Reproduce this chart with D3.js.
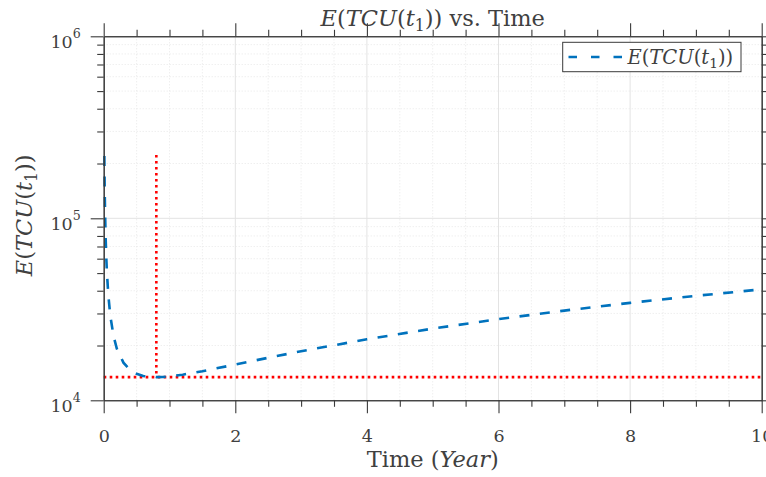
<!DOCTYPE html>
<html>
<head>
<meta charset="utf-8">
<script src="https://cdn.jsdelivr.net/npm/d3@7"></script>
<style>
  html, body { margin: 0; padding: 0; background: #ffffff; }
  svg { display: block; }
  text { font-family: "DejaVu Serif", "Liberation Serif", serif; fill: #404040; }
</style>
</head>
<body>
<svg id="chart" width="766" height="477"></svg>
<script>
// ---- data ----
const tYears = [0.01, 0.015, 0.02, 0.03, 0.04, 0.05, 0.07, 0.1, 0.15, 0.2, 0.3, 0.4, 0.5, 0.6, 0.7, 0.8, 0.9, 1.0, 1.2, 1.5, 2, 2.5, 3, 4, 5, 6, 7, 8, 9, 10];
const tcuValues = [220000, 146000, 111500, 77000, 60000, 49700, 38000, 29200, 22500, 19200, 16100, 14700, 14000, 13600, 13450, 13400, 13440, 13530, 13830, 14450, 15720, 17130, 18600, 21650, 24780, 27930, 31110, 34300, 37490, 40700];
const optimalT = [0.8];
const optimalTCU = [13400];
const markerTop = [223000];
const xMajorTicks = [0, 2, 4, 6, 8, 10];
const xMinorTicks = [0.5, 1, 1.5, 2.5, 3, 3.5, 4.5, 5, 5.5, 6.5, 7, 7.5, 8.5, 9, 9.5];
const yMajorTicks = [1e4, 1e5, 1e6];
const yMajorExponents = ["4", "5", "6"];
const yMinorTicks = [2e4, 3e4, 4e4, 5e4, 6e4, 7e4, 8e4, 9e4, 2e5, 3e5, 4e5, 5e5, 6e5, 7e5, 8e5, 9e5];
const xDomain = [0, 10];
const yDomain = [1e4, 1e6];
const seriesName = [["E", "i"], ["(", "n"], ["TCU", "i"], ["(", "n"], ["t", "i"], ["1", "s"], ["))", "n"]];
const titleTail = " vs. Time";
const xLabelParts = [["Time (", "n"], ["Year", "i"], [")", "n"]];

// ---- layout ----
const L = 103.7, R = 761.7, T = 36.3, B = 400.3;
const svg = d3.select("#chart");
const x = d3.scaleLinear().domain(xDomain).range([L, R]);
const y = d3.scaleLog().domain(yDomain).range([B, T]);

const axisColor = "#3a3a3a";
const majorLen = 13, minorLen = 6.5;

// grid
const grid = svg.append("g");
grid.selectAll(".xmin").data(xMinorTicks).join("line")
  .attr("x1", d => x(d)).attr("x2", d => x(d)).attr("y1", T).attr("y2", B)
  .attr("stroke", "#e2e2e2").attr("stroke-width", 0.8).attr("stroke-dasharray", "1,2");
grid.selectAll(".ymin").data(yMinorTicks).join("line")
  .attr("y1", d => y(d)).attr("y2", d => y(d)).attr("x1", L).attr("x2", R)
  .attr("stroke", "#e2e2e2").attr("stroke-width", 0.8).attr("stroke-dasharray", "1,2");
grid.selectAll(".xmaj").data(xMajorTicks.slice(1, -1)).join("line")
  .attr("x1", d => x(d)).attr("x2", d => x(d)).attr("y1", T).attr("y2", B)
  .attr("stroke", "#e3e3e3").attr("stroke-width", 1);
grid.selectAll(".ymaj").data(yMajorTicks.slice(1, -1)).join("line")
  .attr("y1", d => y(d)).attr("y2", d => y(d)).attr("x1", L).attr("x2", R)
  .attr("stroke", "#e3e3e3").attr("stroke-width", 1);

// reference lines (red dotted)
svg.append("line")
  .attr("x1", x(xDomain[0])).attr("x2", x(xDomain[1]))
  .attr("y1", y(optimalTCU[0])).attr("y2", y(optimalTCU[0]))
  .attr("stroke", "#ff0000").attr("stroke-width", 2.6).attr("stroke-dasharray", "2.6,3.4");
svg.append("line")
  .attr("x1", x(optimalT[0])).attr("x2", x(optimalT[0]))
  .attr("y1", y(markerTop[0])).attr("y2", y(optimalTCU[0]))
  .attr("stroke", "#ff0000").attr("stroke-width", 2.6).attr("stroke-dasharray", "2.6,3.4");

// curve
const line = d3.line().x((d, i) => x(tYears[i])).y(d => y(d));
svg.append("path").datum(tcuValues)
  .attr("d", line).attr("fill", "none")
  .attr("stroke", "#0072BD").attr("stroke-width", 2.6)
  .attr("stroke-dasharray", "10,10.5");

// axes
function styleAxis(g) {
  g.select(".domain").attr("stroke", axisColor).attr("stroke-width", 1.1);
  g.selectAll(".tick line").attr("stroke", axisColor).attr("stroke-width", 1.1);
}
const tickFont = 17.5;

// bottom
const gB = svg.append("g").attr("transform", `translate(0,${B})`)
  .call(d3.axisBottom(x).tickValues(xMajorTicks).tickSize(majorLen).tickSizeOuter(0).tickPadding(16).tickFormat(d3.format("d")));
styleAxis(gB);
gB.selectAll(".tick text").attr("font-size", tickFont).attr("font-family", "DejaVu Serif").attr("fill", "#404040");
const gBm = svg.append("g").attr("transform", `translate(0,${B})`)
  .call(d3.axisBottom(x).tickValues(xMinorTicks).tickSize(minorLen).tickSizeOuter(0).tickFormat(""));
styleAxis(gBm);

// top
const gT = svg.append("g").attr("transform", `translate(0,${T})`)
  .call(d3.axisTop(x).tickValues(xMajorTicks).tickSize(majorLen).tickSizeOuter(0).tickFormat(""));
styleAxis(gT);
const gTm = svg.append("g").attr("transform", `translate(0,${T})`)
  .call(d3.axisTop(x).tickValues(xMinorTicks).tickSize(minorLen).tickSizeOuter(0).tickFormat(""));
styleAxis(gTm);

// left
const gL = svg.append("g").attr("transform", `translate(${L},0)`)
  .call(d3.axisLeft(y).tickValues(yMajorTicks).tickSize(majorLen).tickSizeOuter(0).tickPadding(10).tickFormat(""));
styleAxis(gL);
gL.selectAll(".tick").each(function(d, i) {
  const t = d3.select(this).select("text")
    .attr("font-size", tickFont).attr("font-family", "DejaVu Serif").attr("fill", "#404040")
    .attr("dy", "0.62em").text(null);
  t.append("tspan").text("10");
  t.append("tspan").attr("font-size", tickFont * 0.72).attr("dy", -tickFont * 0.58).text(yMajorExponents[i]);
});
const gLm = svg.append("g").attr("transform", `translate(${L},0)`)
  .call(d3.axisLeft(y).tickValues(yMinorTicks).tickSize(minorLen).tickSizeOuter(0).tickFormat(""));
styleAxis(gLm);

// right
const gR = svg.append("g").attr("transform", `translate(${R},0)`)
  .call(d3.axisRight(y).tickValues(yMajorTicks).tickSize(majorLen).tickSizeOuter(0).tickFormat(""));
styleAxis(gR);
const gRm = svg.append("g").attr("transform", `translate(${R},0)`)
  .call(d3.axisRight(y).tickValues(yMinorTicks).tickSize(minorLen).tickSizeOuter(0).tickFormat(""));
styleAxis(gRm);

// math-text helper
function mathText(sel, parts, size) {
  parts.forEach(([s, kind]) => {
    const ts = sel.append("tspan").text(s);
    if (kind === "i") ts.attr("font-style", "italic");
    if (kind === "s") {
      ts.attr("font-size", size * 0.7).attr("dy", size * 0.22);
    }
    if (kind !== "s" && sel.node().lastChild && sel.selectAll("tspan").size() > 1) {
      const prev = sel.selectAll("tspan").nodes();
      const p = prev[prev.length - 2];
      if (p && p.getAttribute("font-size")) ts.attr("dy", -size * 0.22);
    }
  });
}

const labelFont = 22.5;
// title
const title = svg.append("text").attr("x", (L + R) / 2).attr("y", 26)
  .attr("text-anchor", "middle").attr("font-size", labelFont);
mathText(title, seriesName.concat([[titleTail, "n"]]), labelFont);

// x label
const xl = svg.append("text").attr("x", (L + R) / 2).attr("y", 467)
  .attr("text-anchor", "middle").attr("font-size", labelFont);
mathText(xl, xLabelParts, labelFont);

// y label
const yl = svg.append("text").attr("transform", `translate(32,${(T + B) / 2 - 3}) rotate(-90)`)
  .attr("text-anchor", "middle").attr("font-size", labelFont);
mathText(yl, seriesName, labelFont);

// legend
const lg = svg.append("g");
lg.append("rect").attr("x", 562.7).attr("y", 42.3).attr("width", 178.3).attr("height", 29.4)
  .attr("fill", "#ffffff").attr("stroke", axisColor).attr("stroke-width", 1);
lg.append("line").attr("x1", 568.5).attr("x2", 623.5).attr("y1", 57).attr("y2", 57)
  .attr("stroke", "#0072BD").attr("stroke-width", 2.6).attr("stroke-dasharray", "8.5,14");
const lt = lg.append("text").attr("x", 627.5).attr("y", 63.5).attr("font-size", 19.5);
mathText(lt, seriesName, 19.5);
</script>
</body>
</html>
